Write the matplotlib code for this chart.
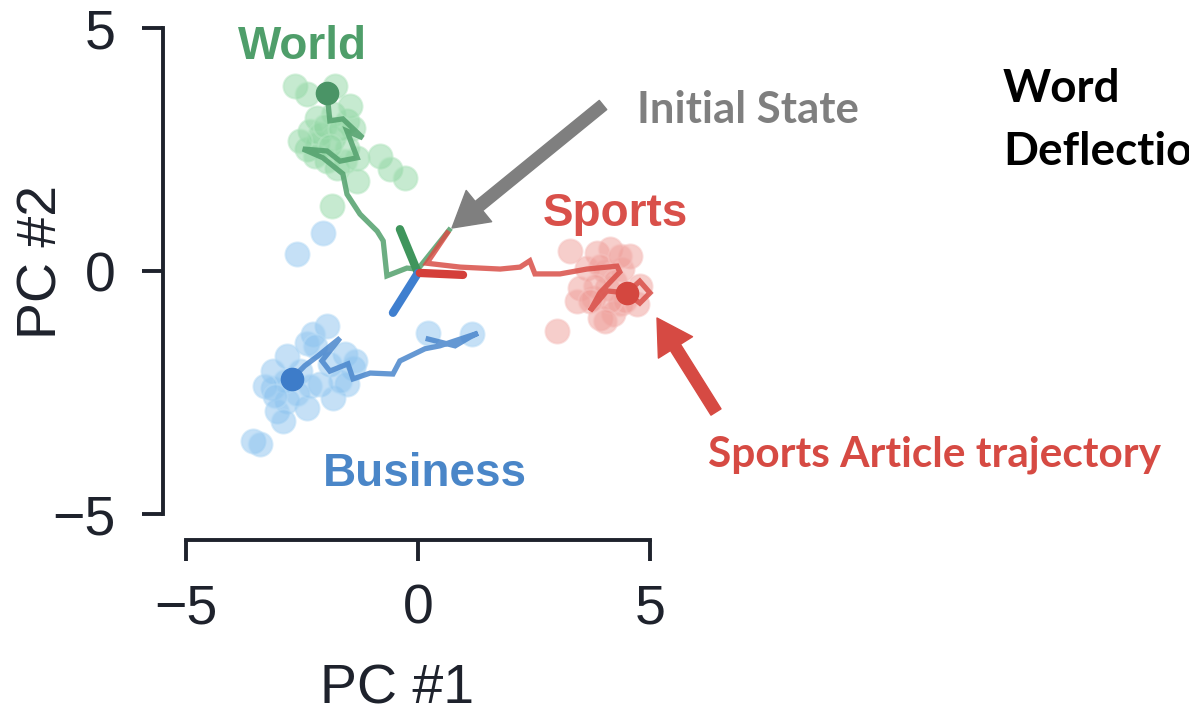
import matplotlib
matplotlib.use('Agg')
import matplotlib.pyplot as plt
import numpy as np

# --- dati (coordinate PC #1, PC #2) ---

# nuvole di punti (stati finali)
world_x = [-2.65, -2.39, -1.79, -2.18, -2.33, -1.83, -1.53, -1.40, -2.39, -2.18, -1.83,
           -1.53, -1.31, -1.75, -1.96, -2.11, -1.31, -0.82, -0.60, -0.28, -1.85,
           -2.00, -1.68, -2.22, -1.57, -1.90, -2.54, -1.47]
world_y = [3.81, 3.64, 3.81, 3.15, 2.88, 3.23, 3.09, 2.94, 2.51, 2.61, 2.74,
           2.53, 2.33, 2.12, 2.26, 2.82, 1.85, 2.37, 2.10, 1.91, 1.34,
           2.98, 2.92, 2.37, 2.26, 2.57, 2.67, 3.40]

business_x = [-1.96, -2.26, -2.39, -2.82, -3.13, -1.57, -1.90, -2.11, -1.83, -2.39, -2.82,
              -3.04, -2.91, -3.13, -2.61, -1.40, -1.53, 0.22, 1.16, -3.56, -3.41, -2.05, -2.61,
              -2.54, -2.87, -2.33, -1.68, -1.36, -3.30, -3.08, -2.22]
business_y = [-1.13, -1.30, -1.48, -1.75, -2.06, -1.71, -1.91, -2.33, -2.61, -2.82, -2.67,
              -2.88, -3.09, -2.41, -2.53, -2.00, -2.33, -1.28, -1.30, -3.50, -3.56, 0.78, 0.35,
              -2.06, -2.26, -2.37, -2.26, -1.85, -2.37, -2.57, -1.54]

sports_x = [3.28, 3.86, 4.14, 4.57, 3.64, 3.49, 3.43, 3.77, 4.07, 3.92, 4.20, 4.35, 4.72, 3.00,
            4.03, 4.40, 3.92, 4.25, 3.81, 4.46, 4.14, 3.71, 4.03, 4.35, 4.78]
sports_y = [0.41, 0.37, 0.45, 0.31, 0.06, -0.35, -0.62, -0.56, -0.35, -0.97, -0.88, -0.68, -0.68, -1.23,
            0.00, 0.05, 0.10, -0.21, -0.31, -0.62, -0.62, -0.62, -1.03, 0.31, -0.31]

# traiettorie
world_traj_x = [0.67, 0.00, -0.24, -0.67, -0.75, -0.88, -1.25, -1.53, -1.62, -2.05, -2.48,
                -1.96, -1.68, -1.31, -1.53, -1.19, -1.62, -1.90, -1.96]
world_traj_y = [0.84, 0.04, 0.06, -0.10, 0.62, 0.82, 1.17, 1.58, 2.00, 2.33, 2.51,
                2.47, 2.26, 2.33, 2.88, 2.74, 3.13, 3.09, 3.66]

business_traj_x = [0.22, 0.80, 1.12, 1.29, 0.47, 0.15, -0.39, -0.54, -1.03, -1.40, -1.51,
                   -1.90, -2.07, -1.68, -2.16, -2.44, -2.72]
business_traj_y = [-1.40, -1.54, -1.36, -1.28, -1.54, -1.60, -1.85, -2.12, -2.10, -2.22, -1.91,
                   -2.06, -1.85, -1.38, -1.75, -1.95, -2.22]

sports_traj_x = [0.63, 0.19, 0.91, 1.77, 2.20, 2.41, 2.52, 3.06, 3.64, 4.29, 4.35,
                 3.92, 3.71, 4.07, 4.50, 4.78, 5.00, 4.78, 4.50]
sports_traj_y = [0.78, 0.16, 0.08, 0.04, 0.08, 0.21, -0.06, -0.06, 0.04, 0.10, -0.02,
                 -0.45, -0.82, -0.41, -0.45, -0.21, -0.45, -0.66, -0.45]

# primo passo (segmenti spessi vicino all'origine)
world_step_x, world_step_y = [-0.39, 0.0], [0.86, -0.04]
business_step_x, business_step_y = [0.0, -0.54], [-0.04, -0.86]
sports_step_x, sports_step_y = [0.04, 0.97], [-0.04, -0.08]

# punti finali
world_end = (-1.96, 3.66)
business_end = (-2.72, -2.22)
sports_end = (4.50, -0.45)

verde = '#52a06c'
blu = '#4a86cc'
rosso = '#d94f48'
scuro = '#1e222c'

fig = plt.figure(figsize=(11.89, 7.12), dpi=100)
ax = fig.add_axes([186/1189, 1 - 514/712, 464/1189, 486/712])

ax.scatter(world_x, world_y, s=300, color='#8fd6a2', alpha=0.5, edgecolors='#b5e6c2',
           linewidths=1.5, clip_on=False)
ax.scatter(business_x, business_y, s=300, color='#8cc3ef', alpha=0.5, edgecolors='#b7dbf6',
           linewidths=1.5, clip_on=False)
ax.scatter(sports_x, sports_y, s=300, color='#ef9e99', alpha=0.5, edgecolors='#f6c4c1',
           linewidths=1.5, clip_on=False)

ax.plot(world_traj_x, world_traj_y, color=verde, lw=3.8, alpha=0.85, solid_joinstyle='miter', clip_on=False)
ax.plot(business_traj_x, business_traj_y, color=blu, lw=3.8, alpha=0.85, solid_joinstyle='miter', clip_on=False)
ax.plot(sports_traj_x, sports_traj_y, color=rosso, lw=3.8, alpha=0.85, solid_joinstyle='miter', clip_on=False)

ax.plot(world_step_x, world_step_y, color='#3f955c', lw=6, solid_capstyle='round')
ax.plot(business_step_x, business_step_y, color='#3f7fcf', lw=6, solid_capstyle='round')
ax.plot(sports_step_x, sports_step_y, color='#d43f3a', lw=6, solid_capstyle='round')

ax.plot(*world_end, 'o', ms=16, color='#4a9466', clip_on=False)
ax.plot(*business_end, 'o', ms=16, color='#3d7cc9', clip_on=False)
ax.plot(*sports_end, 'o', ms=16, color='#d4473f', clip_on=False)

# etichette delle classi
ax.text(-2.48, 4.36, 'World', color='#4f9e6a', fontsize=33, fontweight='bold',
        family='Liberation Sans', ha='center', va='baseline')
ax.text(4.25, 0.93, 'Sports', color='#d9504a', fontsize=33, fontweight='bold',
        family='Liberation Sans', ha='center', va='baseline')
ax.text(0.15, -4.42, 'Business', color='#4a86c8', fontsize=33, fontweight='bold',
        family='Liberation Sans', ha='center', va='baseline')

# assi
ax.set_xlim(-5, 5)
ax.set_ylim(-5, 5)
ax.set_xticks([-5, 0, 5])
ax.set_yticks([-5, 0, 5])
for s in ['top', 'right']:
    ax.spines[s].set_visible(False)
ax.spines['left'].set_position(('outward', 16.5))
ax.spines['bottom'].set_position(('outward', 18.7))
for s in ['left', 'bottom']:
    ax.spines[s].set_linewidth(2.8)
    ax.spines[s].set_color(scuro)
ax.tick_params(length=15, width=2.8, color=scuro, labelsize=40, pad=16, labelcolor=scuro)
ax.tick_params(axis='y', pad=19)
for lab in ax.get_xticklabels() + ax.get_yticklabels():
    lab.set_family('Liberation Sans')
ax.set_xlabel('PC #1', fontsize=40, family='Liberation Sans', color=scuro, va='baseline')
ax.set_ylabel('PC #2', fontsize=40, family='Liberation Sans', color=scuro, va='baseline')
ax.xaxis.set_label_coords((397 - 186) / 464, (514 - 703) / 486)
ax.yaxis.set_label_coords((57 - 186) / 464, (514 - 262) / 486)

# annotazioni (frecce e testi esterni)
ax.annotate('', xy=(452, 712 - 228), xytext=(603, 712 - 105), xycoords='figure pixels',
            arrowprops=dict(arrowstyle='simple,head_width=2.9,head_length=2.5,tail_width=0.85',
                            mutation_scale=10, color='#7f7f7f', shrinkA=0, shrinkB=0))
ax.annotate('', xy=(657, 712 - 318), xytext=(716, 712 - 412), xycoords='figure pixels',
            arrowprops=dict(arrowstyle='simple,head_width=2.9,head_length=2.5,tail_width=0.85',
                            mutation_scale=10, color='#d64a43', shrinkA=0, shrinkB=0))

fig.text(637/1189, 1 - 123/712, 'Initial State', color='#7f7f7f', fontsize=31.5,
         fontweight='bold', family='Lato', ha='left', va='baseline')
fig.text(708/1189, 1 - 467/712, 'Sports Article trajectory', color='#d64a43', fontsize=30.5,
         fontweight='bold', family='Lato', ha='left', va='baseline')
# nell'originale la parola "Deflection" esce dal bordo destro
fig.text(1003/1189, 1 - 102/712, 'Word', color='black', fontsize=33,
         fontweight='bold', family='Lato', ha='left', va='baseline')
fig.text(1003/1189, 1 - 165/712, 'Deflection', color='black', fontsize=33,
         fontweight='bold', family='Lato', ha='left', va='baseline')

plt.savefig('out.png', dpi=100)
plt.close(fig)
